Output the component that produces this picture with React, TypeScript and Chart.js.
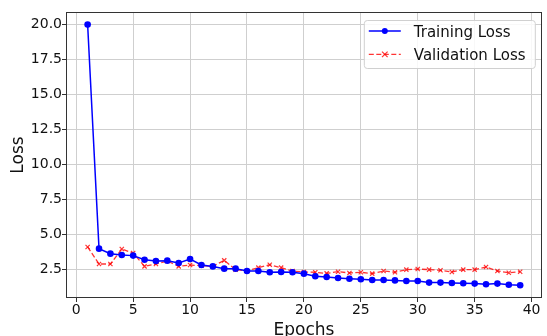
import React, { useEffect, useRef } from "react";
import { Chart, registerables } from "chart.js";

Chart.register(...registerables);

const epochs: number[] = Array.from({ length: 39 }, (_, i) => i + 1);

const trainingLoss: number[] = [
  20.0, 3.98, 3.62, 3.52, 3.48, 3.19, 3.1, 3.12, 2.95, 3.24,
  2.81, 2.71, 2.55, 2.55, 2.38, 2.38, 2.29, 2.31, 2.29, 2.19,
  2.0, 1.95, 1.88, 1.83, 1.79, 1.74, 1.74, 1.71, 1.67, 1.67,
  1.55, 1.55, 1.52, 1.5, 1.48, 1.43, 1.48, 1.4, 1.36,
];

const validationLoss: number[] = [
  4.1, 2.88, 2.88, 3.95, 3.67, 2.71, 2.88, 3.1, 2.71, 2.81,
  2.76, 2.71, 3.14, 2.48, 2.38, 2.62, 2.83, 2.62, 2.38, 2.31,
  2.29, 2.21, 2.33, 2.24, 2.29, 2.19, 2.38, 2.29, 2.48, 2.52,
  2.48, 2.43, 2.31, 2.48, 2.48, 2.67, 2.38, 2.26, 2.33,
];

const seriesLabels = ["Training Loss", "Validation Loss"];
const xTitle = "Epochs";
const yTitle = "Loss";

const FONT = "'DejaVu Sans', sans-serif";

const framePlugin = {
  id: "frame",
  afterDatasetsDraw(chart: any) {
    const { ctx, chartArea: a } = chart;
    ctx.save();
    ctx.strokeStyle = "#333333";
    ctx.lineWidth = 1;
    ctx.strokeRect(Math.round(a.left) + 0.5, Math.round(a.top) + 0.5, Math.round(a.right - a.left) - 1, Math.round(a.bottom - a.top) - 1);
    ctx.restore();
  },
};

const legendPlugin = {
  id: "mplLegend",
  afterDraw(chart: any) {
    const { ctx, chartArea: a } = chart;
    const x0 = a.right - 178;
    const y0 = a.top + 8;
    const w = 171;
    const h = 48;
    ctx.save();
    ctx.fillStyle = "rgba(255,255,255,0.85)";
    ctx.strokeStyle = "#d0d0d0";
    ctx.lineWidth = 1;
    ctx.beginPath();
    (ctx as any).roundRect(x0 + 0.5, y0 + 0.5, w, h, 3);
    ctx.fill();
    ctx.stroke();
    chart.data.datasets.forEach((ds: any, i: number) => {
      const cy = y0 + 11 + i * 23.4;
      const lx1 = x0 + 5;
      const lx2 = x0 + 37;
      const mx = (lx1 + lx2) / 2;
      ctx.strokeStyle = ds.borderColor;
      ctx.lineWidth = ds.borderWidth;
      ctx.setLineDash(ds.borderDash || []);
      ctx.beginPath();
      ctx.moveTo(lx1, cy);
      ctx.lineTo(lx2, cy);
      ctx.stroke();
      ctx.setLineDash([]);
      if (ds.pointStyle === "crossRot") {
        const r = 2.8;
        ctx.strokeStyle = ds.pointBorderColor;
        ctx.lineWidth = 1.2;
        ctx.beginPath();
        ctx.moveTo(mx - r, cy - r);
        ctx.lineTo(mx + r, cy + r);
        ctx.moveTo(mx + r, cy - r);
        ctx.lineTo(mx - r, cy + r);
        ctx.stroke();
      } else {
        ctx.fillStyle = ds.pointBackgroundColor;
        ctx.beginPath();
        ctx.arc(mx, cy, 3, 0, Math.PI * 2);
        ctx.fill();
      }
      ctx.fillStyle = "#111111";
      ctx.font = `15px ${FONT}`;
      ctx.textBaseline = "alphabetic";
      ctx.textAlign = "left";
      ctx.fillText(ds.label, x0 + 50, cy + 5.6);
    });
    ctx.restore();
  },
};

export default function App() {
  const ref = useRef<HTMLCanvasElement | null>(null);

  useEffect(() => {
    if (!ref.current) return;
    const chart = new Chart(ref.current, {
      type: "line",
      data: {
        datasets: [
          {
            label: seriesLabels[0],
            data: epochs.map((e, i) => ({ x: e, y: trainingLoss[i] })),
            borderColor: "#0000ff",
            backgroundColor: "#0000ff",
            borderWidth: 1.5,
            pointStyle: "circle",
            pointRadius: 3.3,
            pointBackgroundColor: "#0000ff",
            pointBorderColor: "#0000ff",
            pointBorderWidth: 0,
            tension: 0,
            order: 1,
          },
          {
            label: seriesLabels[1],
            data: epochs.map((e, i) => ({ x: e, y: validationLoss[i] })),
            borderColor: "rgba(255,0,0,0.8)",
            backgroundColor: "rgba(255,0,0,0.8)",
            borderWidth: 1.3,
            borderDash: [5, 2.5],
            pointStyle: "crossRot",
            pointRadius: 3,
            pointBorderColor: "rgba(255,0,0,0.8)",
            pointBackgroundColor: "rgba(255,0,0,0.8)",
            pointBorderWidth: 1.2,
            tension: 0,
            order: 2,
          },
        ],
      },
      options: {
        responsive: false,
        animation: false,
        devicePixelRatio: 1,
        layout: { padding: { top: 12, right: 2, left: 0, bottom: 0 } },
        plugins: {
          legend: { display: false },
          tooltip: { enabled: false },
        },
        scales: {
          x: {
            type: "linear",
            min: -0.9,
            max: 40.9,
            afterFit: (s: any) => {
              s.height = 38;
            },
            ticks: {
              stepSize: 5,
              includeBounds: false,
              padding: 0,
              color: "#111111",
              font: { family: FONT, size: 14 },
              maxRotation: 0,
            },
            grid: {
              color: "#cfcfcf",
              lineWidth: 1,
              tickColor: "#333333",
              tickLength: 4,
            },
            border: { display: false },
            title: {
              display: true,
              text: xTitle,
              color: "#111111",
              font: { family: FONT, size: 17, lineHeight: 1 },
              padding: { top: 0, bottom: -3 },
            },
          },
          y: {
            type: "linear",
            min: 0.45,
            max: 20.9,
            afterFit: (s: any) => {
              s.width = 66;
            },
            ticks: {
              stepSize: 2.5,
              includeBounds: false,
              padding: 0,
              color: "#111111",
              font: { family: FONT, size: 14 },
              callback: (v: any) => Number(v).toFixed(1),
            },
            grid: {
              color: "#cfcfcf",
              lineWidth: 1,
              tickColor: "#333333",
              tickLength: 4,
            },
            border: { display: false },
            title: {
              display: true,
              text: yTitle,
              color: "#111111",
              font: { family: FONT, size: 17, lineHeight: 1.2 },
              padding: { top: 8, bottom: 0 },
            },
          },
        },
      },
      plugins: [framePlugin, legendPlugin],
    });
    return () => chart.destroy();
  }, []);

  return (
    <div style={{ position: "fixed", left: 0, top: 0, width: 547, height: 336, background: "#fff" }}>
      <canvas ref={ref} width={547} height={336} />
    </div>
  );
}
